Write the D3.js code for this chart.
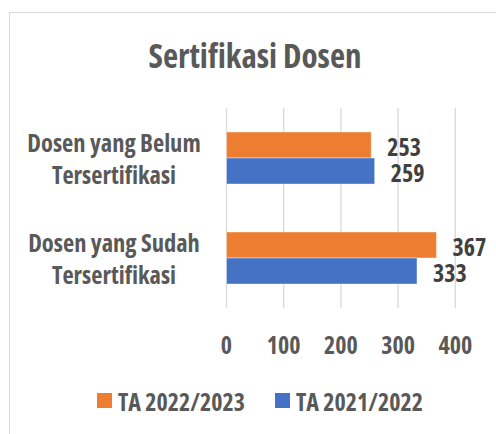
<!DOCTYPE html>
<html>
<head>
<meta charset="utf-8">
<script src="https://cdn.jsdelivr.net/npm/d3@7"></script>
<style>
  html, body { margin: 0; padding: 0; background: #fff; }
  svg text { font-family: "Open Sans", "Liberation Sans Narrow", sans-serif; font-stretch: condensed; font-weight: bold; }
</style>
</head>
<body>
<div id="container"></div>
<script>
const categories = [["Dosen yang Belum", "Tersertifikasi"], ["Dosen yang Sudah", "Tersertifikasi"]];
const series = ["TA 2022/2023", "TA 2021/2022"];
const values2223 = [253, 367];
const values2122 = [259, 333];
const ticks = [0, 100, 200, 300, 400];

const width = 496, height = 434;
const colors = { "TA 2022/2023": "#ED7D31", "TA 2021/2022": "#4472C4" };

const svg = d3.select("#container").append("svg")
  .attr("width", width).attr("height", height);

// chart border
svg.append("rect")
  .attr("x", 9.5).attr("y", 12.5)
  .attr("width", 500).attr("height", 440)
  .attr("fill", "#fff").attr("stroke", "#d9d9d9").attr("stroke-width", 1);

svg.append("text")
  .attr("x", 255).attr("y", 68)
  .attr("text-anchor", "middle")
  .attr("font-size", 33)
  .attr("fill", "#595959")
  .text("Sertifikasi Dosen");

const x = d3.scaleLinear().domain([0, 400]).range([226.5, 455.3]);
const y = d3.scaleBand().domain(d3.range(categories.length)).range([108, 308]);
const ySub = d3.scaleBand().domain(series).range([24, 76]);

// gridlines
svg.append("g").selectAll("line")
  .data(ticks).enter().append("line")
  .attr("x1", d => x(d)).attr("x2", d => x(d))
  .attr("y1", 108).attr("y2", 308)
  .attr("stroke", "#d9d9d9").attr("stroke-width", 1.3);

// tick labels
svg.append("g").selectAll("text")
  .data(ticks).enter().append("text")
  .attr("x", d => x(d)).attr("y", 344)
  .attr("text-anchor", "middle").attr("dominant-baseline", "central")
  .attr("font-size", 24).attr("fill", "#595959")
  .text(d => d);

const rows = [];
categories.forEach((c, i) => {
  rows.push({ cat: i, s: series[0], v: values2223[i] });
  rows.push({ cat: i, s: series[1], v: values2122[i] });
});

const bars = svg.append("g");
bars.selectAll("rect").data(rows).enter().append("rect")
  .attr("x", x(0))
  .attr("y", d => y(d.cat) + ySub(d.s))
  .attr("width", d => x(d.v) - x(0))
  .attr("height", ySub.bandwidth())
  .attr("fill", d => colors[d.s])
  .attr("stroke", "#fff").attr("stroke-opacity", 0.4).attr("stroke-width", 1);

bars.selectAll("text").data(rows).enter().append("text")
  .attr("x", d => x(d.v) + 16)
  .attr("y", d => y(d.cat) + ySub(d.s) + ySub.bandwidth() / 2 + 1)
  .attr("dominant-baseline", "central")
  .attr("font-size", 24).attr("fill", "#404040")
  .text(d => d.v);

// category labels
const catG = svg.append("g").selectAll("text")
  .data(categories).enter().append("text")
  .attr("text-anchor", "middle")
  .attr("font-size", 24.5).attr("fill", "#595959");
catG.selectAll("tspan").data((d, i) => d.map((t, j) => ({ t, j, i }))).enter().append("tspan")
  .attr("x", 114)
  .attr("y", d => y(d.i) + y.bandwidth() / 2 + (d.j === 0 ? -16 : 16))
  .attr("dominant-baseline", "central")
  .text(d => d.t);

// legend
const legend = svg.append("g");
const legendX = [97, 275];
series.forEach((s, i) => {
  legend.append("rect")
    .attr("x", legendX[i]).attr("y", 393)
    .attr("width", 15).attr("height", 15)
    .attr("fill", colors[s]);
  legend.append("text")
    .attr("x", legendX[i] + 21).attr("y", 401)
    .attr("dominant-baseline", "central")
    .attr("font-size", 24).attr("fill", "#595959")
    .text(s);
});
</script>
</body>
</html>
